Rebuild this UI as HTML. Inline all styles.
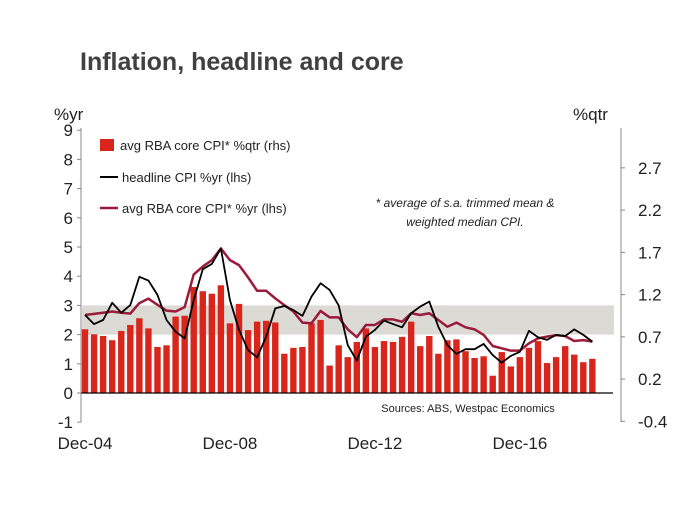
<!DOCTYPE html>
<html><head><meta charset="utf-8"><style>
body{margin:0;background:#fff;}
svg text{font-family:"Liberation Sans",Arial,sans-serif;}
</style></head><body>
<svg width="700" height="525" viewBox="0 0 700 525" xmlns="http://www.w3.org/2000/svg">
<text x="80" y="70" font-size="25" font-weight="bold" fill="#404040">Inflation, headline and core</text>
<text x="54" y="120" font-size="17" fill="#222">%yr</text>
<text x="573" y="120" font-size="17" fill="#222">%qtr</text>
<g id="plot"></g>
<g id="legend">
 <rect x="100" y="139" width="14" height="12" fill="#d9261c"/>
 <text x="120" y="150" font-size="13" fill="#222">avg RBA core CPI* %qtr (rhs)</text>
 <line x1="100" y1="177" x2="118" y2="177" stroke="#000" stroke-width="2"/>
 <text x="122" y="182" font-size="13" fill="#222">headline CPI %yr (lhs)</text>
 <line x1="100" y1="208" x2="118" y2="208" stroke="#9b1b3a" stroke-width="2.5"/>
 <text x="122" y="213" font-size="13" fill="#222">avg RBA core CPI* %yr (lhs)</text>
</g>
<text x="465" y="207" font-size="12" font-style="italic" text-anchor="middle" fill="#222">* average of s.a. trimmed mean &amp;</text>
<text x="465" y="226" font-size="12" font-style="italic" text-anchor="middle" fill="#222">weighted median CPI.</text>
<text x="468" y="412" font-size="11" text-anchor="middle" fill="#222">Sources: ABS, Westpac Economics</text>
</svg>
<script>
const xLabels=["Dec-04","Dec-08","Dec-12","Dec-16"];
const xLabelIdx=[0,16,32,48];
const leftTicks=[9,8,7,6,5,4,3,2,1,0,-1];
const rightTicks=[2.7,2.2,1.7,1.2,0.7,0.2,-0.3];
const rightTickLabels=["2.7","2.2","1.7","1.2","0.7","0.2","-0.4"];
const coreQtr=[0.79,0.73,0.71,0.66,0.77,0.84,0.92,0.80,0.58,0.60,0.94,0.95,1.29,1.24,1.21,1.31,0.86,1.09,0.78,0.88,0.89,0.87,0.50,0.57,0.58,0.86,0.90,0.36,0.60,0.46,0.64,0.80,0.58,0.65,0.64,0.70,0.88,0.59,0.71,0.50,0.66,0.67,0.53,0.45,0.47,0.24,0.52,0.35,0.46,0.57,0.65,0.39,0.46,0.59,0.49,0.40,0.44];
const headline=[2.67,2.36,2.50,3.09,2.75,3.01,3.98,3.85,3.36,2.50,2.10,1.87,3.18,4.24,4.42,4.95,3.18,2.16,1.47,1.22,1.93,2.90,2.98,2.84,2.64,3.30,3.76,3.53,3.00,1.64,1.11,1.93,2.16,2.48,2.36,2.25,2.73,2.96,3.13,2.27,1.64,1.34,1.50,1.50,1.68,1.30,1.04,1.27,1.41,2.13,1.91,1.82,1.99,1.95,2.18,1.99,1.76];
const coreYr=[2.67,2.71,2.75,2.79,2.75,2.72,3.08,3.23,3.02,2.82,2.79,2.94,4.06,4.33,4.55,4.95,4.55,4.38,3.96,3.50,3.50,3.24,3.01,2.79,2.41,2.39,2.81,2.59,2.59,2.18,1.91,2.33,2.33,2.52,2.52,2.44,2.73,2.67,2.73,2.50,2.27,2.41,2.25,2.18,1.99,1.61,1.53,1.45,1.45,1.70,1.87,1.93,1.98,1.95,1.78,1.81,1.76];
const bandLo=2, bandHi=3;

const NS="http://www.w3.org/2000/svg";
const g=document.getElementById('plot');
const X0=81,X1=621,YT=128,YB=422;
const xs=i=>85+i*9.06;
const yL=v=>393-v*29.2;
const yR=v=>396-v*84.5;
function mk(t,a){const e=document.createElementNS(NS,t);for(const k in a)e.setAttribute(k,a[k]);g.appendChild(e);return e;}

let band=mk('rect',{x:X0+1,y:yL(bandHi),width:X1-X0-8,height:yL(bandLo)-yL(bandHi),fill:'#dcdad5'});



coreQtr.forEach((v,i)=>{
 const top=yR(v);
 const r=mk('rect',{x:xs(i)-3.2,y:Math.min(top,393),width:6.4,height:Math.abs(393-top),fill:'#d9261c'});
 
 
});

let base=mk('line',{x1:X0,y1:393,x2:X1-8,y2:393,stroke:'#000','stroke-width':1.2});



function line(arr,col,w,name){
 const p=mk('polyline',{points:arr.map((v,i)=>xs(i)+','+yL(v)).join(' '),fill:'none',stroke:col,'stroke-width':w,'stroke-linejoin':'round'});
 
 
}
line(coreYr,'#9b1b3a',2.5,'line-core-yr');
line(headline,'#000',1.8,'line-headline');

let la=mk('line',{x1:X0,y1:YT,x2:X0,y2:YB,stroke:'#888','stroke-width':1});


let ra=mk('line',{x1:X1,y1:YT,x2:X1,y2:YB,stroke:'#888','stroke-width':1});



leftTicks.forEach(v=>{
 mk('line',{x1:X0-4,y1:yL(v),x2:X0,y2:yL(v),stroke:'#888'});
 const t=mk('text',{x:73,y:yL(v)+6,'font-size':17,'text-anchor':'end',fill:'#222'});
 t.textContent=v;
 
 
});
rightTicks.forEach((v,k)=>{
 mk('line',{x1:X1,y1:yR(v),x2:X1+4,y2:yR(v),stroke:'#888'});
 const t=mk('text',{x:638,y:yR(v)+6,'font-size':17,fill:'#222'});
 t.textContent=rightTickLabels[k];
 
 
});
xLabels.forEach((s,k)=>{
 const x=xs(xLabelIdx[k]);
 const t=mk('text',{x:x,y:449,'font-size':17,'text-anchor':'middle',fill:'#222'});
 t.textContent=s;
 
 
});
</script>
</body></html>
